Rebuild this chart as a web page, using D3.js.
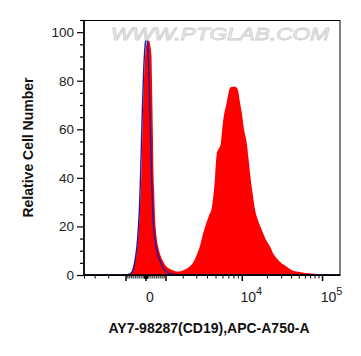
<!DOCTYPE html>
<html><head><meta charset="utf-8">
<script src="https://cdn.jsdelivr.net/npm/d3@7"></script>
<style>body{margin:0;background:#fff}svg{display:block}</style>
</head><body><svg id="c" width="361" height="356"></svg>
<script>
// ---- data: histogram in display channels (0..1024) vs relative cell number ----
const redChannel = [176,184,192,198,204,211,216,221,225,229,232,235,238,242,246,250,254,258,262,266,270,272,274,276,278,281,284,290,297,306,317,331,344,360,377,392,408,424,436,448,464,476,488,500,511,518,524,529,532,536,542,547,552,556,562,571,578,584,592,604,612,617,624,631,640,651,658,664,674,684,696,711,728,744,756,771,788,811,828,851,884,931,971,996];
const redCount   = [0,0.6,1.8,3.5,6,9.5,15,22,30,40,52,64,75,85,92,95,96,96.5,96,94,90,80,68,55,42,33,24,16,11.5,8,5.5,3.4,2.5,1.8,1.4,1.8,2.5,3.6,5,7.5,12,17,21,24.5,27.5,33,40,48,50.5,51.5,52.5,54,59,63,67,71,75,77,77.5,77.5,77,75.7,71,66.8,60,54.4,48,42,34,27,22.5,18.6,14.5,11.7,9,6.9,5,3.4,2.2,1.4,0.8,0.4,0.15,0];
const blueChannel = [0,144,168,184,192,204,212,217,222,226,230,234,238,242,246,250,253,256,259,262,265,268,271,275,279,284,292,304,316,331,344,364,384,1024];
const blueCount   = [0,0,0,0.5,1.2,6,12,18.6,28,40,55,70,82,91,96,97.5,97,93,85,74,62,50,38,26,19,14.5,9.5,6,3,1.2,0.5,0.2,0,0];

// ---- axes / tick values ----
const yTicks = [0,20,40,60,80,100];
const yMinorTicks = [5,10,15,25,30,35,45,50,55,65,70,75,85,90,95,105];
const xMajorTicks = [-1000,0,1000,10000,100000];
const xLabelValues = [0,10000,100000];
const xLabelBase = ["0","10","10"];
const xLabelExp = ["","4","5"];
const xTitle = "AY7-98287(CD19),APC-A750-A";
const yTitle = "Relative Cell Number";
const watermark = "WWW.PTGLAB.COM";

// ---- logicle-like display transform (value -> channel) ----
const LG_A = 442.7, LG_P = 2.6, ZERO_CH = 248, CH_PER_UNIT = 130.8;
function lgF(d){ const s = d<0?-1:1; d=Math.abs(d); return s*LG_A*(Math.exp(d)-LG_P*LG_P*Math.exp(-d/LG_P)+LG_P*LG_P-1); }
function lgUnits(v){ let lo=-20,hi=20; for(let i=0;i<90;i++){const m=(lo+hi)/2; if(lgF(m)<v) lo=m; else hi=m;} return (lo+hi)/2; }
function channelOf(v){ return ZERO_CH + CH_PER_UNIT*lgUnits(v); }

const L=84, R=340, T=20, B=275;
const svg = d3.select("#c");
const x = d3.scaleLinear().domain([0,1024]).range([L,R]);
const y = d3.scaleLinear().domain([0,105]).range([B,T]);

svg.append("defs").append("clipPath").attr("id","pc")
  .append("rect").attr("x",L).attr("y",T).attr("width",R-L).attr("height",B-T);

const plot = svg.append("g").attr("clip-path","url(#pc)");
const redData = redChannel.map((c,i)=>[c,redCount[i]]);
const blueData = blueChannel.map((c,i)=>[c,blueCount[i]]);

plot.append("path").datum(redData)
  .attr("d", d3.area().x(d=>x(d[0])).y0(y(0)).y1(d=>y(d[1])).curve(d3.curveMonotoneX))
  .attr("fill","#ff0000");
plot.append("path").datum(blueData)
  .attr("d", d3.line().x(d=>x(d[0])).y(d=>y(d[1])).curve(d3.curveMonotoneX))
  .attr("fill","none").attr("stroke","#1c1ca6").attr("stroke-width",1.4);

// watermark
svg.append("text").attr("x",(L+R)/2+8).attr("y",40).attr("text-anchor","middle")
  .attr("font-family","Liberation Sans, Arial, sans-serif").attr("font-size",17)
  .attr("font-style","italic").attr("textLength",218).attr("lengthAdjust","spacingAndGlyphs")
  .attr("fill","#f6f6f6").attr("stroke","#cfcfcf").attr("stroke-width",0.8)
  .text(watermark);

// frame
svg.append("rect").attr("x",L).attr("y",T+0.5).attr("width",R-L).attr("height",B-T)
  .attr("fill","none").attr("stroke","#000").attr("stroke-width",1);

// y axis
const ya = svg.append("g").attr("transform",`translate(${L},0)`);
ya.call(d3.axisLeft(y).tickValues(yTicks).tickSize(7).tickPadding(3));
ya.selectAll("text").attr("font-family","Liberation Sans, Arial, sans-serif").attr("font-size",13.5).attr("fill","#222");
ya.select(".domain").remove();
const yb = svg.append("g").attr("transform",`translate(${L},0)`);
yb.call(d3.axisLeft(y).tickValues(yMinorTicks).tickSize(4).tickFormat(""));
yb.select(".domain").remove();
svg.selectAll(".tick line").attr("stroke","#000").attr("stroke-width",1.2);

// x axis ticks
const xMinor = [];
[-4000,-3000,-2000].forEach(v=>xMinor.push(v));
for(let v=-900; v<=900; v+=100) if(v!==0) xMinor.push(v);
for(let v=-80; v<=80; v+=20) if(v!==0) xMinor.push(v);
for(let m=2;m<=9;m++){ xMinor.push(m*1000); xMinor.push(m*10000); }
const xInDomain = v => { const c=channelOf(v); return c>=0 && c<=1024; };
const xg = svg.append("g");
xg.selectAll("line.minor").data(xMinor.filter(xInDomain)).join("line")
  .attr("x1",v=>x(channelOf(v))).attr("x2",v=>x(channelOf(v)))
  .attr("y1",B).attr("y2",B+3.5).attr("stroke","#000").attr("stroke-width",1);
xg.selectAll("line.major").data(xMajorTicks).join("line")
  .attr("x1",v=>x(channelOf(v))).attr("x2",v=>x(channelOf(v)))
  .attr("y1",B).attr("y2",B+6).attr("stroke","#000").attr("stroke-width",1.5);

// x labels
const xl = svg.append("g").attr("font-family","Liberation Sans, Arial, sans-serif").attr("fill","#222");
xLabelValues.forEach((v,i)=>{
  const t = xl.append("text").attr("text-anchor","middle")
    .attr("x", x(channelOf(v)) + (xLabelExp[i] ? 9 : 4)).attr("y", B+27).attr("font-size",14);
  t.append("tspan").text(xLabelBase[i]);
  if(xLabelExp[i]) t.append("tspan").attr("dy",-7.5).attr("font-size",11).text(xLabelExp[i]);
});

// axis lines
svg.append("line").attr("x1",L).attr("x2",L).attr("y1",T).attr("y2",B+0.75).attr("stroke","#000").attr("stroke-width",1.6);
svg.append("line").attr("x1",L).attr("x2",R).attr("y1",B).attr("y2",B).attr("stroke","#000").attr("stroke-width",1.6);

// titles
svg.append("text").attr("x",(L+R)/2-3).attr("y",333).attr("text-anchor","middle")
  .attr("font-family","Liberation Sans, Arial, sans-serif").attr("font-weight","bold").attr("font-size",14)
  .attr("fill","#111").text(xTitle);
svg.append("text").attr("transform",`translate(33,${(T+B)/2}) rotate(-90)`).attr("text-anchor","middle")
  .attr("font-family","Liberation Sans, Arial, sans-serif").attr("font-weight","bold").attr("font-size",14)
  .attr("fill","#111").text(yTitle);
</script></body></html>
